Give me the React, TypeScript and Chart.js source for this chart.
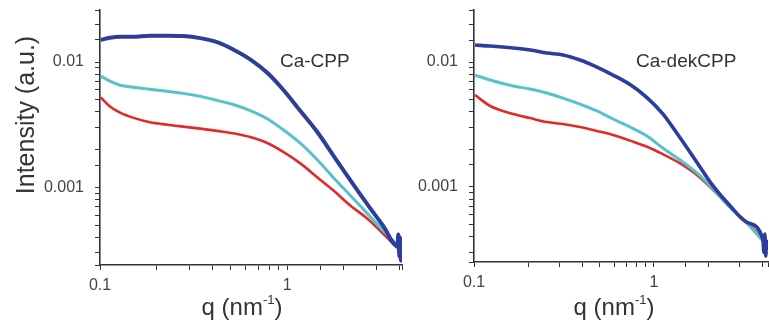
import React, { useEffect, useRef } from 'react';
import { Chart, registerables } from 'chart.js';

Chart.register(...registerables);

// ---------- Data: left panel (Ca-CPP) ----------
const leftQ = [0.101, 0.113, 0.128, 0.150, 0.185, 0.228, 0.278, 0.343, 0.422, 0.514, 0.634, 0.782, 0.952, 1.17, 1.45, 1.76, 2.17, 2.68, 3.26, 3.87];
const leftBlue = [0.0150, 0.0156, 0.0159, 0.0159, 0.0162, 0.0162, 0.0161, 0.0155, 0.0144, 0.0126, 0.0105, 0.0082, 0.0060, 0.0041, 0.00275, 0.00180, 0.00114, 0.00073, 0.00049, 0.00034];
const leftCyan = [0.00771, 0.00703, 0.00652, 0.00629, 0.00606, 0.00584, 0.00562, 0.00532, 0.00494, 0.00458, 0.00410, 0.00353, 0.00288, 0.00226, 0.00165, 0.00120, 0.000862, 0.000617, 0.000450, 0.000347];
const leftRed = [0.00522, 0.00442, 0.00395, 0.00360, 0.00330, 0.00316, 0.00305, 0.00294, 0.00282, 0.00270, 0.00252, 0.00226, 0.00192, 0.00156, 0.00120, 0.000946, 0.000716, 0.000562, 0.000426, 0.000328];
const leftBlueTailQ = [3.92, 3.97, 4.0, 4.04, 4.08, 4.1];
const leftBlueTail = [0.00042, 0.00028, 0.00040, 0.00026, 0.00038, 0.00027];

// ---------- Data: right panel (Ca-dekCPP) ----------
const rightQ = [0.1013, 0.123, 0.165, 0.205, 0.254, 0.312, 0.388, 0.482, 0.592, 0.736, 0.914, 1.12, 1.39, 1.73, 2.13, 2.64, 3.29, 4.03];
const rightBlue = [0.01368, 0.01343, 0.01294, 0.01247, 0.01180, 0.01138, 0.01038, 0.00912, 0.00787, 0.00660, 0.00520, 0.00385, 0.00250, 0.00158, 0.00102, 0.00071, 0.00052, 0.00038];
const rightCyan = [0.00787, 0.00718, 0.00643, 0.00608, 0.00565, 0.00515, 0.00461, 0.00406, 0.00350, 0.00302, 0.00256, 0.00205, 0.00165, 0.00130, 0.00097, 0.00069, 0.00051, 0.00037];
const rightRed = [0.00545, 0.00445, 0.00384, 0.00356, 0.00331, 0.00319, 0.00302, 0.00281, 0.00261, 0.00235, 0.00210, 0.00183, 0.00155, 0.00125, 0.00095, 0.00069, 0.00052, 0.00038];
const rightBlueTailQ = [4.08, 4.13, 4.18, 4.22, 4.27];
const rightBlueTail = [0.00030, 0.00042, 0.00028, 0.00037, 0.00031];

const xTickLabels = ['0.1', '1'];
const yTickLabels = ['0.01', '0.001'];
const panelTitles = ['Ca-CPP', 'Ca-dekCPP'];
const yTitle = 'Intensity (a.u.)';

const FONT = "'Liberation Sans', Arial, sans-serif";
const BLUE = '#2c3d9c';
const CYAN = '#55c3c9';
const RED = '#de2b2b';

const pts = (xs: number[], ys: number[]) => xs.map((x, i) => ({ x, y: ys[i] }));

function labelFor(v: number, labels: string[]) {
  for (const l of labels) {
    const n = parseFloat(l);
    if (Math.abs(v / n - 1) < 1e-6) return l;
  }
  return '';
}

function zeroPad(s: any) {
  s.paddingLeft = 0; s.paddingRight = 0; s.paddingTop = 0; s.paddingBottom = 0;
}

type TextItem = { kind: 'plain' | 'q' | 'rot'; text?: string; x: number; y: number; size: number; align?: CanvasTextAlign };

const textPlugin = (items: TextItem[]) => ({
  id: 'texts',
  afterDraw(chart: any) {
    const ctx: CanvasRenderingContext2D = chart.ctx;
    ctx.save();
    ctx.fillStyle = '#333';
    ctx.textBaseline = 'middle';
    for (const it of items) {
      if (it.kind === 'plain') {
        ctx.font = `${it.size}px ${FONT}`;
        ctx.textAlign = it.align || 'left';
        ctx.fillText(it.text!, it.x, it.y);
      } else if (it.kind === 'rot') {
        ctx.save();
        ctx.translate(it.x, it.y);
        ctx.rotate(-Math.PI / 2);
        ctx.font = `${it.size}px ${FONT}`;
        ctx.textAlign = 'center';
        ctx.fillText(it.text!, 0, 0);
        ctx.restore();
      } else {
        const big = `${it.size}px ${FONT}`;
        const small = `${Math.round(it.size * 0.55)}px ${FONT}`;
        ctx.font = big;
        const a = 'q (nm';
        const c = ')';
        const wa = ctx.measureText(a).width;
        const wc = ctx.measureText(c).width;
        ctx.font = small;
        const sup = '-1';
        const wb = ctx.measureText(sup).width;
        const total = wa + wb + wc;
        const x0 = it.x - total / 2;
        ctx.textAlign = 'left';
        ctx.font = big;
        ctx.fillText(a, x0, it.y);
        ctx.font = small;
        ctx.fillText(sup, x0 + wa, it.y - it.size * 0.3);
        ctx.font = big;
        ctx.fillText(c, x0 + wa + wb, it.y);
      }
    }
    ctx.restore();
  },
});

function makeConfig(
  datasets: any[],
  xMax: number,
  yMin: number,
  yMax: number,
  padding: { left: number; right: number; top: number; bottom: number },
  texts: TextItem[]
) {
  const axisCommon = {
    type: 'logarithmic' as const,
    grid: { drawOnChartArea: false, drawTicks: true, tickLength: 5, color: '#333', lineWidth: 1 },
    border: { display: true, color: '#333', width: 1.6 },
  };
  return {
    type: 'line' as const,
    data: { datasets },
    options: {
      animation: false as const,
      responsive: false,
      maintainAspectRatio: false,
      layout: { padding },
      plugins: { legend: { display: false }, tooltip: { enabled: false } },
      elements: { point: { radius: 0 } },
      scales: {
        x: {
          ...axisCommon,
          min: 0.1,
          max: xMax,
          ticks: {
            autoSkip: false,
            maxRotation: 0,
            padding: 6,
            color: '#444',
            font: { family: FONT, size: 16 },
            callback: (v: any) => labelFor(Number(v), xTickLabels),
          },
          afterFit: (s: any) => { s.height = 40; zeroPad(s); },
        },
        y: {
          ...axisCommon,
          min: yMin,
          max: yMax,
          ticks: {
            autoSkip: false,
            padding: 11,
            color: '#444',
            font: { family: FONT, size: 16 },
            callback: (v: any) => labelFor(Number(v), yTickLabels),
          },
          afterFit: (s: any) => { s.width = 60; zeroPad(s); },
        },
      },
    },
    plugins: [textPlugin(texts)],
  };
}

function ds(data: any[], color: string, width: number) {
  return {
    data,
    borderColor: color,
    backgroundColor: color,
    borderWidth: width,
    pointRadius: 0,
    fill: false,
    cubicInterpolationMode: 'monotone' as const,
  };
}

export default function App() {
  const leftRef = useRef<HTMLCanvasElement>(null);
  const rightRef = useRef<HTMLCanvasElement>(null);

  useEffect(() => {
    const left = new Chart(
      leftRef.current!,
      makeConfig(
        [
          ds(pts(leftQ.concat(leftBlueTailQ), leftBlue.concat(leftBlueTail)), BLUE, 4),
          ds(pts(leftQ, leftCyan), CYAN, 3),
          ds(pts(leftQ, leftRed), RED, 2.6),
        ],
        4.1,
        0.00024,
        0.026,
        { left: 40, right: 367, top: 10, bottom: 19 },
        [
          { kind: 'plain', text: panelTitles[0], x: 280, y: 62, size: 19 },
          { kind: 'rot', text: yTitle, x: 27, y: 115, size: 25 },
          { kind: 'q', x: 242, y: 308, size: 24 },
        ]
      ) as any
    );
    const right = new Chart(
      rightRef.current!,
      makeConfig(
        [
          ds(pts(rightQ.concat(rightBlueTailQ), rightBlue.concat(rightBlueTail)), BLUE, 3.6),
          ds(pts(rightQ, rightCyan), CYAN, 3),
          ds(pts(rightQ, rightRed), RED, 2.6),
        ],
        4.3,
        0.000251,
        0.0261,
        { left: 414, right: 1, top: 10, bottom: 22 },
        [
          { kind: 'plain', text: panelTitles[1], x: 636, y: 62, size: 19 },
          { kind: 'q', x: 614, y: 308, size: 24 },
        ]
      ) as any
    );
    return () => {
      left.destroy();
      right.destroy();
    };
  }, []);

  const cstyle: React.CSSProperties = { position: 'absolute', left: 0, top: 0, width: 769, height: 324 };
  return (
    <div style={{ position: 'fixed', left: 0, top: 0, width: 769, height: 324, overflow: 'hidden', background: '#fff' }}>
      <canvas ref={leftRef} width={769} height={324} style={cstyle} />
      <canvas ref={rightRef} width={769} height={324} style={cstyle} />
    </div>
  );
}
